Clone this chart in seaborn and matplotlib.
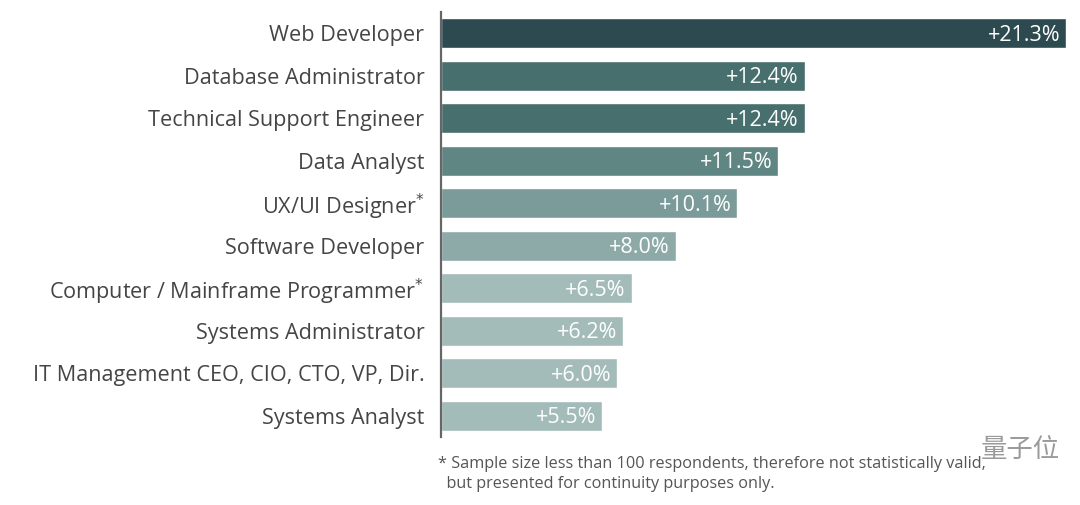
import matplotlib
matplotlib.use("Agg")
import matplotlib.pyplot as plt
import seaborn as sns
import pandas as pd

roles = [
    "Web Developer",
    "Database Administrator",
    "Technical Support Engineer",
    "Data Analyst",
    "UX/UI Designer$^{*}$",
    "Software Developer",
    "Computer / Mainframe Programmer$^{*}$",
    "Systems Administrator",
    "IT Management CEO, CIO, CTO, VP, Dir.",
    "Systems Analyst",
]
growth = [21.3, 12.4, 12.4, 11.5, 10.1, 8.0, 6.5, 6.2, 6.0, 5.5]
bar_colors = ["#2c4a50", "#476f6d", "#476f6d", "#5f8682", "#7a9b99",
              "#8daaa8", "#a3bbb9", "#a3bbb9", "#a3bbb9", "#a3bbb9"]
footnote = ("* Sample size less than 100 respondents, therefore not statistically valid,\n"
            "  but presented for continuity purposes only.")


def main():
    sns.set_style("white")
    plt.rcParams["font.family"] = ["Open Sans", "Noto Sans CJK SC", "DejaVu Sans"]

    df = pd.DataFrame({"role": roles, "growth": growth})

    fig = plt.figure(figsize=(10.8, 5.05), dpi=100)
    ax = fig.add_axes([441 / 1080, 1 - 437 / 505, (1066 - 441) / 1080, (437 - 12) / 505])

    sns.barplot(data=df, x="growth", y="role", hue="role", palette=bar_colors,
                legend=False, width=0.7, orient="h", ax=ax, saturation=1)

    ax.set_xlim(0, 21.3)
    ax.set_ylim(9.5, -0.5)
    ax.set_xlabel("")
    ax.set_ylabel("")
    ax.set_xticks([])
    ax.tick_params(axis="y", length=0, pad=12, labelsize=15.6, labelcolor="#454545")

    for s in ["top", "right", "bottom"]:
        ax.spines[s].set_visible(False)
    ax.spines["left"].set_color("#666666")
    ax.spines["left"].set_linewidth(1.6)

    for i, v in enumerate(growth):
        ax.text(v - 0.2, i + 0.05, f"+{v:.1f}%", ha="right", va="center",
                color="white", fontsize=15.5)

    fig.text(438 / 1080, 1 - 474 / 505, footnote, ha="left", va="center",
             fontsize=11.7, color="#555555", linespacing=1.3)
    # watermark, nudged so it does not sit on the footnote
    fig.text(1020 / 1080, 1 - 449 / 505, "量子位", ha="center", va="center",
             fontsize=19, color="#9a9a9a", family=["Noto Sans CJK SC", "DejaVu Sans"])

    fig.savefig("out.png", dpi=100)


if __name__ == "__main__":
    main()
